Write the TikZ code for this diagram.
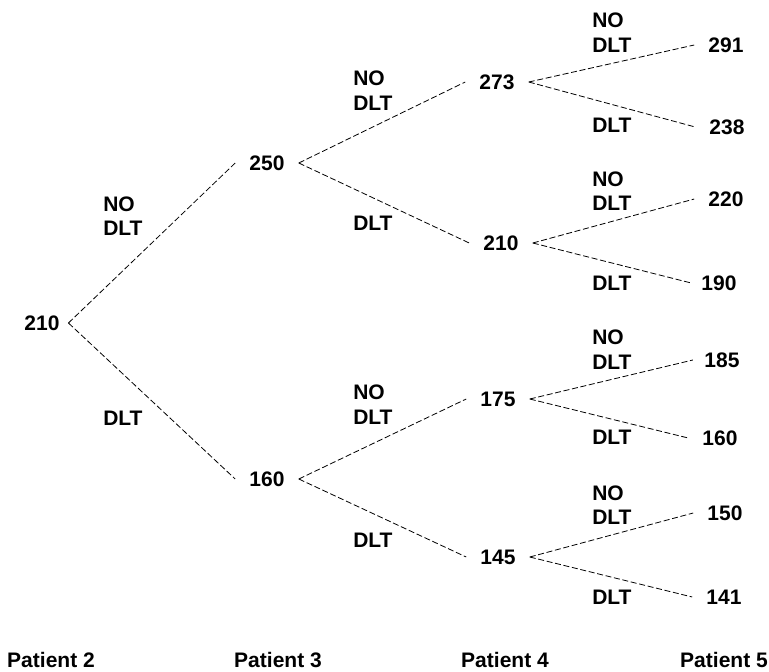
\documentclass[tikz,border=0pt]{standalone}
\usepackage{fontspec}
\setmainfont{Liberation Sans}
\begin{document}
\begin{tikzpicture}[x=0.75pt,y=-0.75pt,
  num/.style={font=\fontsize{15.75}{18.4}\selectfont\bfseries, inner xsep=10.5pt, inner ysep=0pt},
  lab/.style={font=\fontsize{15.75}{18.4}\selectfont\bfseries, anchor=west, align=left, inner sep=0pt},
  pat/.style={font=\fontsize{15.75}{18.4}\selectfont\bfseries, inner sep=0pt},
  branch/.style={draw=black, line width=0.6pt, dash pattern=on 4.5pt off 2pt}]
\useasboundingbox (0,0) rectangle (769,672);
\fill[white] (0,0) rectangle (769,672);
% level 1
\node[num, inner xsep=6.5pt] (r) at (42,323) {210};
% level 2
\node[num] (a) at (267,163) {250};
\node[num] (b) at (267,479) {160};
% level 3
\node[num] (aa) at (497,82) {273};
\node[num] (ab) at (501,243) {210};
\node[num] (ba) at (498,399) {175};
\node[num] (bb) at (498,557) {145};
% level 4
\node[num] (aaa) at (726,45) {291};
\node[num] (aab) at (727,127) {238};
\node[num] (aba) at (726,199) {220};
\node[num, inner xsep=7.5pt] (abb) at (719,283) {190};
\node[num, inner xsep=8.5pt] (baa) at (722,360) {185};
\node[num] (bab) at (720,438) {160};
\node[num] (bba) at (725,513) {150};
\node[num] (bbb) at (724,597) {141};
% connectors
\draw[branch] (r.east) -- (a.west);
\draw[branch] (r.east) -- (b.west);
\draw[branch] (a.east) -- (aa.west);
\draw[branch] (a.east) -- (ab.west);
\draw[branch] (b.east) -- (ba.west);
\draw[branch] (b.east) -- (bb.west);
\draw[branch] (aa.east) -- (aaa.west);
\draw[branch] (aa.east) -- (aab.west);
\draw[branch] (ab.east) -- (aba.west);
\draw[branch] (ab.east) -- (abb.west);
\draw[branch] (ba.east) -- (baa.west);
\draw[branch] (ba.east) -- (bab.west);
\draw[branch] (bb.east) -- (bba.west);
\draw[branch] (bb.east) -- (bbb.west);
% labels
\node[lab] (l1) at (103,216) {NO\\DLT};
\node[lab] (l2) at (103,418) {DLT};
\node[lab] (l3) at (353,90.5) {NO\\DLT};
\node[lab] (l4) at (353,223) {DLT};
\node[lab] (l5) at (353,404.5) {NO\\DLT};
\node[lab] (l6) at (353,540) {DLT};
\node[lab] (l7) at (592,32.5) {NO\\DLT};
\node[lab] (l8) at (592,125) {DLT};
\node[lab] (l9) at (592,191) {NO\\DLT};
\node[lab] (l10) at (592,283) {DLT};
\node[lab] (l11) at (592,349.5) {NO\\DLT};
\node[lab] (l12) at (592,437) {DLT};
\node[lab] (l13) at (592,505) {NO\\DLT};
\node[lab] (l14) at (592,597) {DLT};
% patients
\node[pat] (p2) at (51,660) {Patient 2};
\node[pat] (p3) at (278,660) {Patient 3};
\node[pat] (p4) at (505,660) {Patient 4};
\node[pat] (p5) at (724,660) {Patient 5};
\end{tikzpicture}
\end{document}
